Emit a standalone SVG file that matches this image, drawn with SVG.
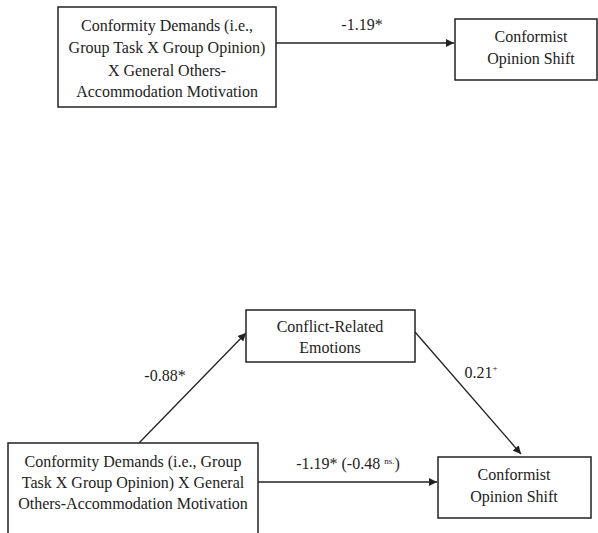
<svg xmlns="http://www.w3.org/2000/svg" width="598" height="533" viewBox="0 0 598 533">
<style>
.box{fill:#fff;stroke:#222;stroke-width:1.5}
text{font-family:"Liberation Serif","DejaVu Serif","Times New Roman",serif;font-size:16px;fill:#222;text-anchor:middle}
.sup{font-size:9px}
.edge{stroke:#222;stroke-width:1.3;fill:none;marker-end:url(#arr)}
</style>
<defs>
<marker id="arr" viewBox="0 0 10 10" refX="10" refY="5" markerWidth="8" markerHeight="8" markerUnits="userSpaceOnUse" orient="auto">
<path d="M0,0 L10,5 L0,10 z" fill="#222"/>
</marker>
</defs>
<rect width="598" height="533" fill="#fff"/>
<g id="connectors">
<line class="edge" x1="276" y1="43" x2="454" y2="43"/>
<line class="edge" x1="139" y1="443" x2="246" y2="333"/>
<line class="edge" x1="415" y1="332" x2="521" y2="454"/>
<line class="edge" x1="258" y1="482" x2="437" y2="482"/>
<text x="362" y="30">-1.19*</text>
<text x="165" y="381">-0.88*</text>
<text x="481" y="378">0.21<tspan class="sup" dy="-7">+</tspan></text>
<text x="348" y="469">-1.19* (-0.48 <tspan class="sup" dy="-5">ns.</tspan><tspan dy="5">)</tspan></text>
</g>
<g id="top-predictor">
<rect class="box" x="58" y="7" width="218" height="100"/>
<text x="167" y="31">Conformity Demands (i.e.,</text>
<text x="167" y="53">Group Task X Group Opinion)</text>
<text x="167" y="76">X General Others-</text>
<text x="167" y="97">Accommodation Motivation</text>
</g>
<g id="top-outcome">
<rect class="box" x="455" y="19" width="142" height="61"/>
<text x="531" y="42">Conformist</text>
<text x="531" y="64">Opinion Shift</text>
</g>
<g id="mediator">
<rect class="box" x="246" y="310" width="169" height="52"/>
<text x="330" y="332">Conflict-Related</text>
<text x="330" y="353">Emotions</text>
</g>
<g id="bottom-predictor">
<rect class="box" x="8" y="443" width="250" height="100"/>
<text x="133" y="467">Conformity Demands (i.e., Group</text>
<text x="133" y="488">Task X Group Opinion) X General</text>
<text x="133" y="509">Others-Accommodation Motivation</text>
</g>
<g id="bottom-outcome">
<rect class="box" x="438" y="457" width="153" height="61"/>
<text x="514" y="480">Conformist</text>
<text x="514" y="502">Opinion Shift</text>
</g>
</svg>
